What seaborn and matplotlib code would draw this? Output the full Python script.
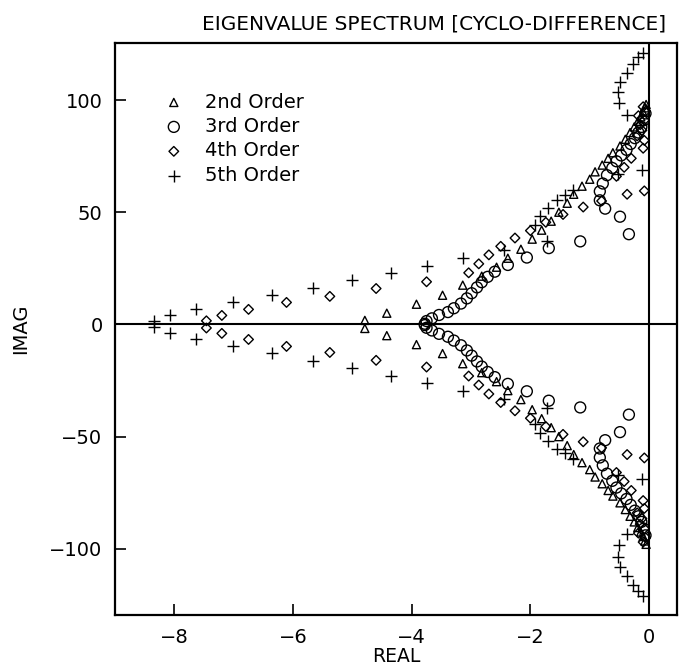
import matplotlib
matplotlib.use("Agg")
import matplotlib.pyplot as plt
import pandas as pd
import seaborn as sns

# Eigenvalues (upper half, then the conjugate lower half)
re_2nd = [-4.79, -4.42, -3.92, -3.48, -3.14, -2.82, -2.57, -2.38, -2.16, -1.97,
          -1.81, -1.65, -1.52, -1.38, -1.27, -1.13, -1.00, -0.91, -0.79, -0.69,
          -0.61, -0.49, -0.40, -0.32, -0.25, -0.19, -0.14, -0.10, -0.07, -0.05]
im_2nd_up = [1.8, 5.0, 9.0, 13.0, 17.5, 21.5, 25.5, 29.5, 33.5, 38.0,
             42.0, 46.0, 50.0, 54.0, 58.0, 61.6, 64.7, 68.0, 71.0, 74.0,
             76.5, 79.5, 82.5, 85.5, 88.0, 90.5, 92.5, 94.5, 96.5, 98.0]
im_2nd_lo = [-1.8, -5.0, -9.0, -13.0, -17.5, -21.5, -25.5, -29.5, -33.5, -38.0,
             -42.0, -46.0, -50.0, -54.0, -58.0, -61.6, -64.7, -68.0, -71.0, -74.0,
             -76.5, -79.5, -82.5, -85.5, -88.0, -90.5, -92.5, -94.5, -96.5, -98.0]

re_3rd = [-3.78, -3.75, -3.66, -3.54, -3.39, -3.29, -3.17, -3.07, -2.99, -2.90,
          -2.82, -2.72, -2.60, -2.38, -2.06, -1.69, -1.16, -0.34, -0.49, -0.74,
          -0.83, -0.83, -0.78, -0.71, -0.62, -0.55, -0.47, -0.38, -0.31, -0.24,
          -0.18, -0.13, -0.09, -0.06]
im_3rd_up = [0.3, 1.5, 2.7, 4.2, 5.5, 7.2, 9.3, 11.6, 13.9, 16.5,
             18.8, 21.2, 23.5, 26.5, 29.8, 34.0, 37.0, 40.2, 48.0, 51.6,
             55.3, 59.3, 62.8, 66.5, 69.7, 72.7, 75.3, 77.8, 80.4, 83.0,
             85.5, 88.0, 91.0, 94.0]
im_3rd_lo = [-0.3, -1.5, -2.7, -4.2, -5.5, -7.2, -9.3, -11.6, -13.9, -16.5,
             -18.8, -21.2, -23.5, -26.5, -29.8, -34.0, -37.0, -40.2, -48.0, -51.6,
             -55.3, -59.3, -62.8, -66.5, -69.7, -72.7, -75.3, -77.8, -80.4, -83.0,
             -85.5, -88.0, -91.0, -94.0]

re_4th = [-7.46, -7.20, -6.75, -6.11, -5.38, -4.60, -3.75, -3.04, -2.87, -2.70,
          -2.50, -2.26, -2.00, -1.74, -1.45, -1.11, -0.80, -0.37, -0.08, -0.55,
          -0.42, -0.30, -0.10, -0.08, -0.20, -0.12, -0.15, -0.08, -0.18, -0.06,
          -0.10]
im_4th_up = [1.6, 4.0, 6.7, 9.8, 12.5, 16.0, 19.0, 23.0, 27.0, 31.0,
             34.8, 38.5, 41.8, 45.5, 49.0, 52.3, 55.0, 58.0, 59.5, 66.0,
             70.0, 74.0, 78.5, 82.0, 84.0, 86.5, 89.0, 91.0, 93.0, 95.0,
             97.0]
im_4th_lo = [-1.6, -4.0, -6.7, -9.8, -12.5, -16.0, -19.0, -23.0, -27.0, -31.0,
             -34.8, -38.5, -41.8, -45.5, -49.0, -52.3, -55.0, -58.0, -59.5, -66.0,
             -70.0, -74.0, -78.5, -82.0, -84.0, -86.5, -89.0, -91.0, -93.0, -95.0,
             -97.0]

re_5th = [-8.34, -8.08, -7.63, -7.02, -6.35, -5.67, -5.00, -4.35, -3.75, -3.14,
          -2.45, -1.72, -1.93, -1.84, -1.70, -1.55, -1.42, -1.28, -0.52, -0.12,
          -0.37, -0.51, -0.52, -0.49, -0.37, -0.27, -0.19, -0.10]
im_5th_up = [1.3, 4.0, 6.7, 9.8, 12.9, 16.1, 19.6, 22.8, 25.9, 29.5,
             33.3, 37.3, 44.5, 48.5, 52.0, 55.5, 57.5, 60.0, 67.0, 69.0,
             93.5, 98.5, 103.5, 108.0, 112.0, 116.0, 119.0, 121.0]
im_5th_lo = [-1.3, -4.0, -6.7, -9.8, -12.9, -16.1, -19.6, -22.8, -25.9, -29.5,
             -33.3, -37.3, -44.5, -48.5, -52.0, -55.5, -57.5, -60.0, -67.0, -69.0,
             -93.5, -98.5, -103.5, -108.0, -112.0, -116.0, -119.0, -121.0]

orders = ["2nd Order", "3rd Order", "4th Order", "5th Order"]
series = {
    "2nd Order": (re_2nd, im_2nd_up, im_2nd_lo),
    "3rd Order": (re_3rd, im_3rd_up, im_3rd_lo),
    "4th Order": (re_4th, im_4th_up, im_4th_lo),
    "5th Order": (re_5th, im_5th_up, im_5th_lo),
}

frames = []
for name in orders:
    re, up, lo = series[name]
    frames.append(pd.DataFrame({"real": re + re, "imag": up + lo, "order": name}))
df = pd.concat(frames, ignore_index=True)

marker_style = {
    "2nd Order": dict(marker="^", s=34),
    "3rd Order": dict(marker="o", s=62),
    "4th Order": dict(marker="D", s=24),
    "5th Order": dict(marker="+", s=72),
}

sns.set_theme(style="ticks")
plt.rcParams["font.family"] = ["DejaVu Sans"]
for key in ("text.color", "axes.labelcolor", "xtick.color", "ytick.color", "axes.edgecolor"):
    plt.rcParams[key] = "black"

fig = plt.figure(figsize=(6.79, 6.72), dpi=100)
ax = fig.add_axes([0.1694, 0.0848, 0.8276, 0.8512])

for name in orders:
    kws = dict(marker_style[name])
    if kws["marker"] != "+":
        kws["facecolors"] = "none"
    sns.scatterplot(data=df[df["order"] == name], x="real", y="imag",
                    color="black", edgecolor="black", linewidth=1.0,
                    label=name, legend=False, ax=ax, **kws)

ax.axhline(0, color="black", lw=1.5, zorder=0)
ax.axvline(0, color="black", lw=1.5, zorder=0)

ax.set_xlim(-9.0, 0.47)
ax.set_ylim(-129.5, 125.4)
ax.set_xticks([-8, -6, -4, -2, 0])
ax.set_yticks([-100, -50, 0, 50, 100])
ax.tick_params(direction="in", length=8, width=1.2, top=False, right=False,
               labelsize=14)
ax.tick_params(axis="x", pad=9)
ax.tick_params(axis="y", pad=9)
for sp in ax.spines.values():
    sp.set_linewidth(1.6)

ax.set_xlabel("")
ax.set_ylabel("IMAG", fontsize=14, labelpad=14)
fig.text(0.583, 1 - 657 / 672, "REAL", fontsize=13.5, ha="center", va="center")
fig.text(0.64, 1 - 24 / 672, "EIGENVALUE SPECTRUM [CYCLO-DIFFERENCE]",
         fontsize=14.5, ha="center", va="center")

ax.legend(loc="upper left", bbox_to_anchor=(0.07, 0.927), frameon=False,
          fontsize=14, handletextpad=1.0, labelspacing=0.28,
          handlelength=1.2, borderaxespad=0)

fig.savefig("out.png", dpi=100)
